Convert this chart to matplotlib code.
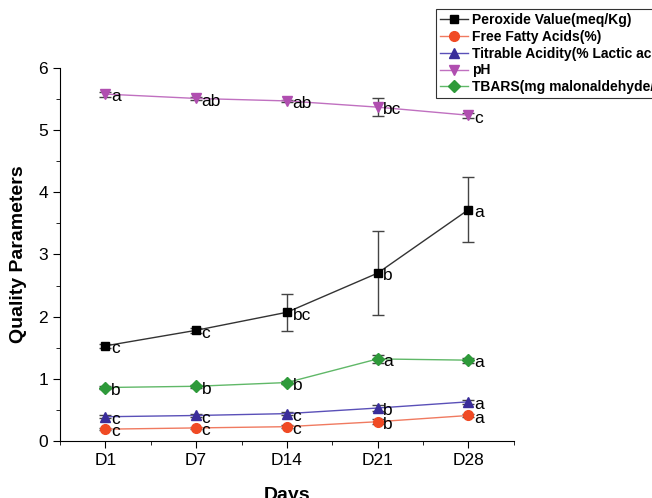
import matplotlib
matplotlib.use("Agg")
import matplotlib.pyplot as plt
from matplotlib.lines import Line2D
from matplotlib.ticker import MultipleLocator

plt.rcParams['font.family'] = ['Liberation Sans', 'DejaVu Sans']

days = ['D1', 'D7', 'D14', 'D21', 'D28']

peroxide = [1.53, 1.78, 2.07, 2.70, 3.72]
peroxide_err = [0.03, 0.04, 0.30, 0.67, 0.52]
peroxide_let = ['c', 'c', 'bc', 'b', 'a']

ffa = [0.19, 0.21, 0.23, 0.31, 0.41]
ffa_err = [0.02, 0.02, 0.02, 0.04, 0.02]
ffa_let = ['c', 'c', 'c', 'b', 'a']

titrable = [0.39, 0.41, 0.44, 0.53, 0.63]
titrable_err = [0.02, 0.02, 0.02, 0.05, 0.03]
titrable_let = ['c', 'c', 'c', 'b', 'a']

ph = [5.58, 5.51, 5.47, 5.37, 5.24]
ph_err = [0.04, 0.02, 0.02, 0.15, 0.04]
ph_let = ['a', 'ab', 'ab', 'bc', 'c']

tbars = [0.86, 0.88, 0.94, 1.32, 1.30]
tbars_err = [0.02, 0.02, 0.02, 0.07, 0.04]
tbars_let = ['b', 'b', 'b', 'a', 'a']

series = [
    ('Peroxide Value(meq/Kg)', peroxide, peroxide_err, peroxide_let, 's', '#000000', '#333333', 6),
    ('Free Fatty Acids(%)', ffa, ffa_err, ffa_let, 'o', '#f04a24', '#f07a60', 7),
    ('Titrable Acidity(% Lactic acid))', titrable, titrable_err, titrable_let, '^', '#3a2d9a', '#5a50b8', 7),
    ('pH', ph, ph_err, ph_let, 'v', '#b04eb0', '#c070c0', 7),
    ('TBARS(mg malonaldehyde/kg)', tbars, tbars_err, tbars_let, 'D', '#2e9a3a', '#60b868', 6),
]

fig = plt.figure(figsize=(6.52, 4.98), dpi=100)
ax = fig.add_axes([0.092, 0.1145, 0.696, 0.749])

x = list(range(len(days)))
handles = []
for label, vals, err, lets, mk, mc, lc, ms in series:
    ax.errorbar(x, vals, yerr=err, color=lc, lw=1, marker=mk, mfc=mc, mec=mc,
                ms=ms, ecolor='#444444', elinewidth=1, capsize=4, capthick=1)
    handles.append(Line2D([], [], color=lc, lw=1, marker=mk, mfc=mc, mec=mc,
                          ms=ms, label=label))
    for xi, v, t in zip(x, vals, lets):
        ax.annotate(t, (xi, v), xytext=(4, -2), textcoords='offset points',
                    ha='left', va='center', fontsize=12.5)

ax.set_xlim(-0.5, 4.5)
ax.set_ylim(0, 6)
ax.set_xticks(x)
ax.set_xticklabels(days)
ax.xaxis.set_minor_locator(MultipleLocator(0.5))
ax.yaxis.set_major_locator(MultipleLocator(1))
ax.yaxis.set_minor_locator(MultipleLocator(0.5))
ax.tick_params(which='both', direction='out', labelsize=12.5)
ax.tick_params(which='major', length=5)
ax.tick_params(which='minor', length=3)
ax.spines['top'].set_visible(False)
ax.spines['right'].set_visible(False)

ax.set_xlabel('Days', fontsize=14, fontweight='bold', labelpad=14)
ax.set_ylabel('Quality Parameters', fontsize=14, fontweight='bold', labelpad=8)

leg = fig.legend(handles=handles, loc='upper left', bbox_to_anchor=(0.669, 0.982),
                 prop={'weight': 'bold', 'size': 10}, frameon=True,
                 fancybox=False, edgecolor='black', handlelength=2,
                 handletextpad=0.3, borderpad=0.3, labelspacing=0.2,
                 borderaxespad=0)
leg.get_frame().set_linewidth(0.8)

fig.savefig('out.png', dpi=100)
